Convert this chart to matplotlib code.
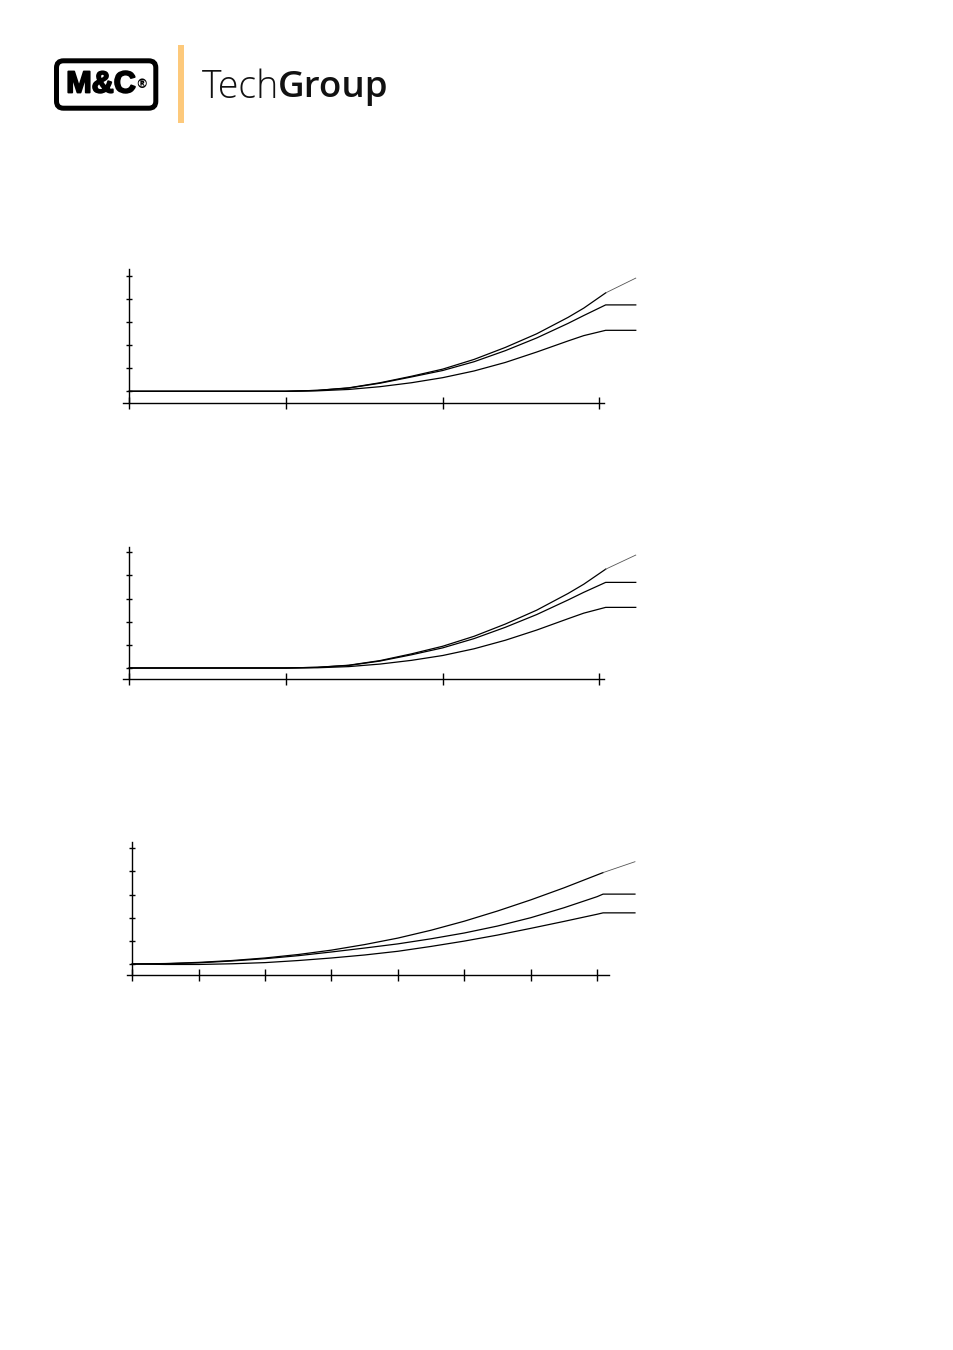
import matplotlib
matplotlib.use("Agg")
import matplotlib.pyplot as plt
from matplotlib.patches import FancyBboxPatch, Rectangle
import matplotlib.patheffects as pe

# ---------------- data ----------------
# chart 1
x1 = [0, 1.0, 1.2, 1.4, 1.6, 1.8, 2.0, 2.2, 2.4, 2.6, 2.8, 2.9, 3.04, 3.232]
top1 = [0, 0, 0.04, 0.15, 0.37, 0.65, 0.96, 1.38, 1.90, 2.49, 3.20, 3.60, 4.26, 4.90]
mid1 = [0, 0, 0.04, 0.14, 0.35, 0.62, 0.90, 1.28, 1.76, 2.31, 2.94, 3.28, 3.74, 3.74]
low1 = [0, 0, 0.02, 0.08, 0.20, 0.37, 0.59, 0.88, 1.25, 1.70, 2.18, 2.41, 2.64, 2.64]
# chart 2
x2 = [0, 1.0, 1.2, 1.4, 1.6, 1.8, 2.0, 2.2, 2.4, 2.6, 2.8, 2.9, 3.04, 3.232]
top2 = [0, 0, 0.03, 0.12, 0.32, 0.61, 0.94, 1.37, 1.90, 2.50, 3.22, 3.62, 4.27, 4.88]
mid2 = [0, 0, 0.03, 0.11, 0.30, 0.57, 0.87, 1.27, 1.76, 2.31, 2.94, 3.27, 3.70, 3.70]
low2 = [0, 0, 0.01, 0.06, 0.17, 0.33, 0.54, 0.83, 1.20, 1.64, 2.13, 2.37, 2.62, 2.62]
# chart 3
x3 = [0, 0.5, 1, 1.5, 2, 2.5, 3, 3.5, 4, 4.5, 5, 5.5, 6, 6.5, 7, 7.09, 7.57]
top3 = [0, 0.02, 0.07, 0.15, 0.26, 0.41, 0.60, 0.84, 1.12, 1.46, 1.85, 2.29, 2.77, 3.29, 3.85, 3.95, 4.42]
mid3 = [0, 0.01, 0.05, 0.13, 0.23, 0.36, 0.52, 0.69, 0.87, 1.09, 1.34, 1.64, 2.00, 2.43, 2.91, 3.02, 3.02]
low3 = [0, -0.02, -0.02, 0.01, 0.06, 0.15, 0.26, 0.39, 0.55, 0.76, 0.99, 1.25, 1.54, 1.84, 2.15, 2.21, 2.21]

xticks1 = [0, 1, 2, 3]
xticks3 = [0, 1, 2, 3, 4, 5, 6, 7]
yticks = [0, 1, 2, 3, 4, 5]

W, H = 954, 1350
fig = plt.figure(figsize=(W / 100, H / 100), dpi=100)
fig.patch.set_facecolor("white")


def make_axes(box, x0px, y0px, sx, sy):
    left, top, right, bottom = box
    ax = fig.add_axes([left / W, 1 - bottom / H, (right - left) / W, (bottom - top) / H])
    ax.set_xlim((left - x0px) / sx, (right - x0px) / sx)
    ax.set_ylim((y0px - bottom) / sy, (y0px - top) / sy)
    ax.patch.set_alpha(0)
    return ax


def style_axes(ax, xticks, xaxis_y, ytop, xstart, xend):
    for s in ("top", "right"):
        ax.spines[s].set_visible(False)
    ax.spines["left"].set_position(("data", 0))
    ax.spines["left"].set_bounds(xaxis_y, ytop)
    ax.spines["bottom"].set_position(("data", xaxis_y))
    ax.spines["bottom"].set_bounds(xstart, xend)
    for s in ("left", "bottom"):
        ax.spines[s].set_linewidth(1.0)
        ax.spines[s].set_color("black")
    ax.set_xticks(xticks)
    ax.set_yticks(yticks)
    ax.set_xticklabels([])
    ax.set_yticklabels([])
    ax.tick_params(axis="x", direction="inout", length=8.4, width=1.0, color="black")
    ax.tick_params(axis="y", direction="inout", length=4.8, width=1.0, color="black")


def draw_curves(ax, x, top, mid, low):
    ax.plot(x[:-1], top[:-1], color="black", lw=0.9)
    ax.plot(x[-2:], top[-2:], color="#555555", lw=0.6)
    ax.plot(x, mid, color="black", lw=0.9)
    ax.plot(x, low, color="black", lw=0.9)


# chart 1
ax1 = make_axes((100, 255, 650, 420), 129.3, 391.3, 156.7, 23.1)
style_axes(ax1, xticks1, -0.494, 5.28, -0.038, 3.031)
draw_curves(ax1, x1, top1, mid1, low1)

# chart 2
ax2 = make_axes((100, 530, 650, 700), 129.3, 668.0, 156.7, 23.14)
style_axes(ax2, xticks1, -0.488, 5.24, -0.038, 3.031)
draw_curves(ax2, x2, top2, mid2, low2)

# chart 3
ax3 = make_axes((100, 825, 650, 995), 132.3, 964.0, 66.4, 23.14)
style_axes(ax3, xticks3, -0.488, 5.285, -0.084, 7.175)
draw_curves(ax3, x3, top3, mid3, low3)

# ---------------- logo ----------------
axl = fig.add_axes([0, 0, 1, 1])
axl.set_xlim(0, W)
axl.set_ylim(H, 0)
axl.axis("off")
axl.patch.set_alpha(0)

box = FancyBboxPatch((56.5, 60.8), 99.3, 47.4,
                     boxstyle="round,pad=0,rounding_size=7",
                     linewidth=3.6, edgecolor="black", facecolor="white")
axl.add_patch(box)
axl.text(101.0, 84.5, "M&C", fontsize=22, fontweight="bold", family="Liberation Sans",
         ha="center", va="center", color="black",
         path_effects=[pe.withStroke(linewidth=1.3, foreground="black")])
axl.text(142.0, 85.0, "®", fontsize=9, fontweight="bold", family="DejaVu Sans",
         ha="center", va="center", color="black")

axl.add_patch(Rectangle((178.3, 45), 6, 78.3, facecolor="#FDC97B", edgecolor="none"))

t1 = axl.text(202, 97.5, "Tech", fontsize=27, fontweight="light", family="Open Sans",
              ha="left", va="baseline", color="#111111")
fig.canvas.draw()
bb = t1.get_window_extent(renderer=fig.canvas.get_renderer())
axl.text(bb.x1 - 1.5, 97.5, "Group", fontsize=26.5, fontweight="semibold", family="Open Sans",
         ha="left", va="baseline", color="#111111")

fig.savefig("out.png", dpi=100, facecolor="white")
